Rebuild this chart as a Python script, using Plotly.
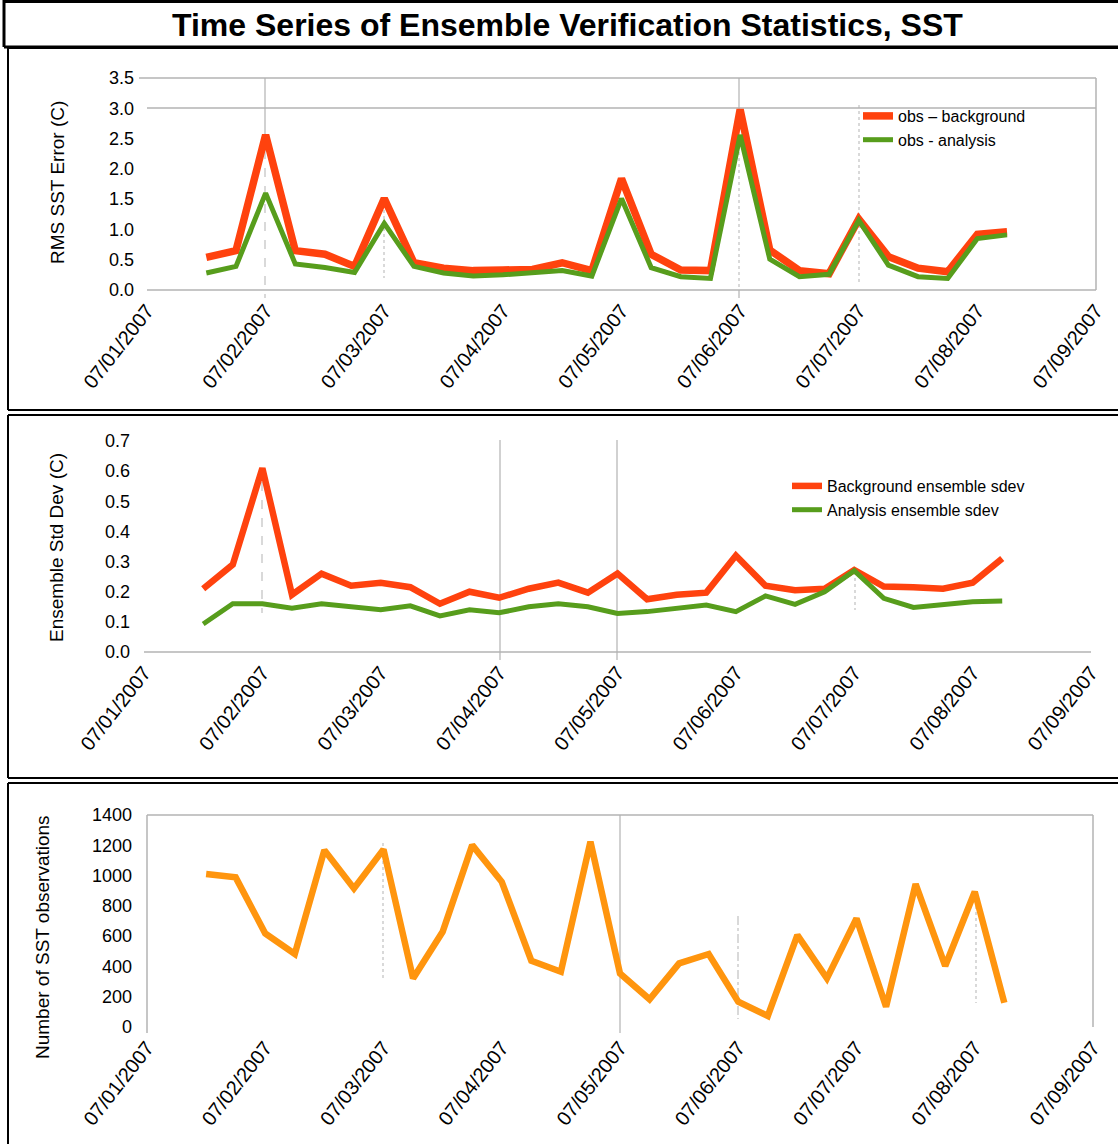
import plotly.graph_objects as go

# ---------------- data ----------------
times = [
    "2007-07-01 12:00", "2007-07-01 18:00",
    "2007-07-02 00:00", "2007-07-02 06:00", "2007-07-02 12:00", "2007-07-02 18:00",
    "2007-07-03 00:00", "2007-07-03 06:00", "2007-07-03 12:00", "2007-07-03 18:00",
    "2007-07-04 00:00", "2007-07-04 06:00", "2007-07-04 12:00", "2007-07-04 18:00",
    "2007-07-05 00:00", "2007-07-05 06:00", "2007-07-05 12:00", "2007-07-05 18:00",
    "2007-07-06 00:00", "2007-07-06 06:00", "2007-07-06 12:00", "2007-07-06 18:00",
    "2007-07-07 00:00", "2007-07-07 06:00", "2007-07-07 12:00", "2007-07-07 18:00",
    "2007-07-08 00:00", "2007-07-08 06:00",
]

obs_minus_background = [0.54, 0.65, 2.56, 0.65, 0.59, 0.39, 1.51, 0.45, 0.36, 0.32,
                        0.33, 0.34, 0.45, 0.32, 1.84, 0.59, 0.33, 0.32, 2.98, 0.66,
                        0.32, 0.27, 1.17, 0.55, 0.36, 0.30, 0.92, 0.96]
obs_minus_analysis = [0.28, 0.39, 1.60, 0.43, 0.37, 0.29, 1.10, 0.39, 0.28, 0.23,
                      0.25, 0.28, 0.32, 0.23, 1.51, 0.37, 0.22, 0.19, 2.56, 0.51,
                      0.22, 0.26, 1.15, 0.41, 0.22, 0.19, 0.85, 0.91]

background_sdev = [0.21, 0.29, 0.61, 0.19, 0.26, 0.22, 0.23, 0.215, 0.16, 0.20,
                   0.18, 0.21, 0.23, 0.197, 0.26, 0.175, 0.19, 0.197, 0.32, 0.22,
                   0.205, 0.21, 0.272, 0.217, 0.215, 0.21, 0.23, 0.31]
analysis_sdev = [0.093, 0.16, 0.16, 0.145, 0.16, 0.15, 0.14, 0.153, 0.12, 0.14,
                 0.13, 0.15, 0.16, 0.15, 0.128, 0.134, 0.143, 0.156, 0.134, 0.186,
                 0.158, 0.20, 0.27, 0.178, 0.148, 0.156, 0.167, 0.169]

n_obs = [1010, 988, 618, 482, 1168, 915, 1173, 321, 629, 1201,
         959, 438, 365, 1223, 354, 183, 420, 482, 167, 73,
         607, 321, 717, 134, 944, 403, 893, 160]

date_ticks_range = ["2007-07-01", "2007-07-09"]

# ---------------- styling ----------------
W, H = 1118, 1144
RED = "#FF420E"
GREEN = "#579D1C"
ORANGE = "#FF950E"
GRID = "#b3b3b3"
FONT = "Liberation Sans, Arial, sans-serif"


def px(x):
    return x / W


def py(y):
    return 1 - y / H


fig = go.Figure()

fig.add_trace(go.Scatter(x=times, y=obs_minus_background, mode="lines", name="obs \u2013 background",
                         line=dict(color=RED, width=7.5), xaxis="x", yaxis="y", legend="legend"))
fig.add_trace(go.Scatter(x=times, y=obs_minus_analysis, mode="lines", name="obs - analysis",
                         line=dict(color=GREEN, width=5), xaxis="x", yaxis="y", legend="legend"))
fig.add_trace(go.Scatter(x=times, y=background_sdev, mode="lines", name="Background ensemble sdev",
                         line=dict(color=RED, width=6.5), xaxis="x2", yaxis="y2", legend="legend2"))
fig.add_trace(go.Scatter(x=times, y=analysis_sdev, mode="lines", name="Analysis ensemble sdev",
                         line=dict(color=GREEN, width=5), xaxis="x2", yaxis="y2", legend="legend2"))
fig.add_trace(go.Scatter(x=times, y=n_obs, mode="lines", name="Number of SST observations",
                         line=dict(color=ORANGE, width=6.5), xaxis="x3", yaxis="y3", showlegend=False))

xcommon = dict(type="date", range=date_ticks_range, dtick=86400000, tickformat="%m/%d/%Y",
               tickangle=-52, showgrid=False, zeroline=False, showline=False, ticks="",
               automargin=False, ticklabelstandoff=4,
               tickfont=dict(family=FONT, size=20, color="black"))
ycommon = dict(showgrid=False, zeroline=False, showline=False, ticks="", automargin=False,
               tickfont=dict(family=FONT, size=18, color="black"), ticklabelstandoff=12)

panels = {
    1: dict(x0=147, x1=1096, ytop=78, ybot=290),
    2: dict(x0=144, x1=1091, ytop=441, ybot=652),
    3: dict(x0=147, x1=1093, ytop=815, ybot=1027),
}

layout = dict(
    width=W, height=H, margin=dict(l=0, r=0, t=0, b=0, pad=0), autosize=False,
    paper_bgcolor="white", plot_bgcolor="white", showlegend=True,
)
for i, p in panels.items():
    sx = "" if i == 1 else str(i)
    xa = dict(xcommon, domain=[px(p["x0"]), px(p["x1"])], anchor="y" + sx)
    ya = dict(ycommon, domain=[py(p["ybot"]), py(p["ytop"])], anchor="x" + sx)
    layout["xaxis" + sx] = xa
    layout["yaxis" + sx] = ya

layout["yaxis"].update(range=[0, 3.5], dtick=0.5, tickformat=".1f")
layout["yaxis2"].update(range=[0, 0.7], dtick=0.1, tickformat=".1f", ticklabelstandoff=13)
layout["yaxis3"].update(range=[0, 1400], dtick=200, tickformat="d", ticklabelstandoff=14)

layout["legend"] = dict(x=px(858), y=py(99), xanchor="left", yanchor="top",
                        bgcolor="rgba(0,0,0,0)", font=dict(family=FONT, size=16, color="black"),
                        tracegroupgap=0, itemwidth=30)
layout["legend2"] = dict(x=px(787), y=py(469), xanchor="left", yanchor="top",
                         bgcolor="rgba(0,0,0,0)", font=dict(family=FONT, size=16, color="black"),
                         tracegroupgap=0, itemwidth=30)

fig.update_layout(**layout)

shapes = []


def pline(x0, y0, x1, y1, color="black", width=2, dash="solid"):
    shapes.append(dict(type="line", xref="paper", yref="paper",
                       x0=px(x0), y0=py(y0), x1=px(x1), y1=py(y1),
                       line=dict(color=color, width=width, dash=dash), layer="below"))


# frames (black boxes)
pline(4, 1.5, 1118, 1.5, width=3)
pline(4, 0, 4, 47, width=3)
pline(4, 47, 1118, 47, width=3)
for top, bot in [(48, 410), (415, 778), (783, 1150)]:
    pline(8, top, 1118, top, width=2)
    pline(8, top, 8, bot, width=2)
    pline(8, bot, 1118, bot, width=2)

# panel 1 light lines
pline(139, 78, 1096, 78, GRID, 1.5)
pline(147, 108, 1096, 108, GRID, 1.5)
pline(147, 290, 1096, 290, GRID, 1.5)
pline(1096, 78, 1096, 290, GRID, 1.5)
pline(265, 78, 265, 150, GRID, 1.2)
pline(265, 150, 265, 298, GRID, 1, "dash")
pline(739, 78, 739, 110, GRID, 1.2)
pline(739, 110, 739, 290, GRID, 1, "dot")
pline(739, 290, 739, 298, GRID, 1.2)
pline(384, 210, 384, 278, GRID, 1, "dot")
pline(859, 105, 859, 282, GRID, 1, "dot")

# panel 2 light lines
pline(144, 652, 1091, 652, GRID, 1.5)
pline(500, 440, 500, 660, GRID, 1.2)
pline(617, 440, 617, 660, GRID, 1.2)
pline(262, 482, 262, 613, GRID, 1, "dash")
pline(855, 572, 855, 610, GRID, 1, "dot")

# panel 3 light lines
pline(147, 815, 1093, 815, GRID, 1.5)
pline(147, 815, 147, 1033, GRID, 1.5)
pline(1093, 815, 1093, 1027, GRID, 1.5)
pline(620, 815, 620, 1033, GRID, 1.2)
pline(738, 916, 738, 1019, GRID, 1, "dashdot")
pline(383, 843, 383, 978, GRID, 1, "dot")
pline(976, 900, 976, 1003, GRID, 1, "dot")

fig.update_layout(shapes=shapes)

annotations = [
    dict(text="<b>Time Series of Ensemble Verification Statistics, SST</b>", x=px(567), y=py(25),
         xref="paper", yref="paper", showarrow=False, xanchor="center", yanchor="middle",
         font=dict(family=FONT, size=32, color="black")),
    dict(text="RMS SST Error (C)", x=px(57), y=py(183), textangle=-90,
         xref="paper", yref="paper", showarrow=False, xanchor="center", yanchor="middle",
         font=dict(family=FONT, size=19, color="black")),
    dict(text="Ensemble Std Dev (C)", x=px(57), y=py(548), textangle=-90,
         xref="paper", yref="paper", showarrow=False, xanchor="center", yanchor="middle",
         font=dict(family=FONT, size=19, color="black")),
    dict(text="Number of SST observations", x=px(42), y=py(937), textangle=-90,
         xref="paper", yref="paper", showarrow=False, xanchor="center", yanchor="middle",
         font=dict(family=FONT, size=19, color="black")),
]
fig.update_layout(annotations=annotations)

fig.write_html("out.html", config={"displayModeBar": False},
               post_script="document.body.style.margin='0';document.body.style.overflow='hidden';")
